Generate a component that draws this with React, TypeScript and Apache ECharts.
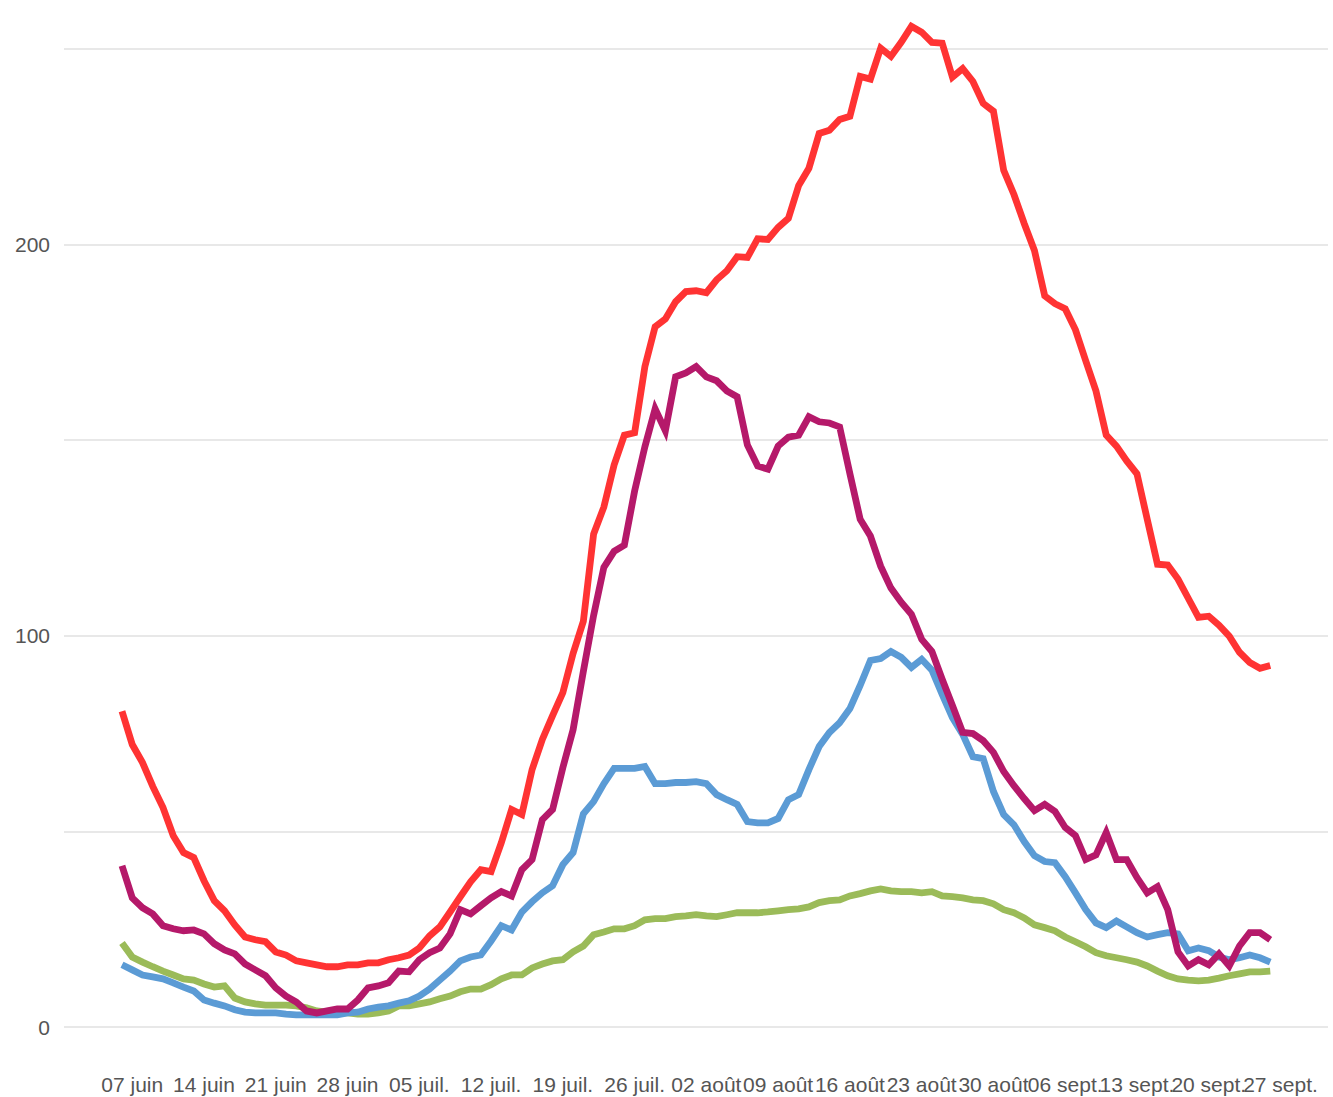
import React, { useEffect, useRef } from "react";
import * as echarts from "echarts";

// Daily categories: 6 June -> 27 Sept (the last one carries only a tick label)
const monthDays: [string, number, number][] = [
  ["06", 6, 30],
  ["07", 1, 31],
  ["08", 1, 31],
  ["09", 1, 27],
];
const categories: string[] = [];
for (const [m, from, to] of monthDays) {
  for (let d = from; d <= to; d++) categories.push(`${String(d).padStart(2, "0")}/${m}`);
}

const tickLabels = [
  "07 juin", "14 juin", "21 juin", "28 juin",
  "05 juil.", "12 juil.", "19 juil.", "26 juil.",
  "02 août", "09 août", "16 août", "23 août", "30 août",
  "06 sept.", "13 sept.", "20 sept.", "27 sept.",
];

const redValues = [
  80.7, 72.2, 67.6, 61.5, 56.1, 48.9, 44.6, 43.3, 37.4, 32.3,
  29.7, 26.1, 23, 22.3, 21.8, 19.2, 18.4, 16.9, 16.4, 15.9,
  15.4, 15.4, 15.9, 15.9, 16.4, 16.4, 17.2, 17.7, 18.4, 20.2,
  23.3, 25.6, 29.4, 33.3, 37.1, 40.2, 39.7, 47.1, 55.6, 54.3,
  65.8, 73.5, 79.6, 85.5, 95.5, 103.7, 126, 132.9, 143.7, 151.3,
  151.9, 168.8, 179, 181, 185.4, 188, 188.2, 187.7, 191, 193.3,
  196.9, 196.7, 201.5, 201.3, 204.4, 206.7, 215.1, 219.5, 228.4, 229.2,
  232, 232.8, 243, 242.3, 250.2, 248.1, 251.7, 255.8, 254.3, 251.7,
  251.5, 242.8, 245, 241.7, 236.1, 234.1, 219, 212.8, 205.4, 198.5,
  186.9, 184.9, 183.6, 178.2, 170.3, 162.6, 151.3, 148.5, 144.7, 141.4,
  129.8, 118.3, 118.1, 114.5, 109.6, 104.7, 105, 102.7, 99.9, 95.8,
  93.2, 91.7, 92.4,
];

const purpleValues = [
  41.2, 33, 30.5, 28.9, 25.9, 25.1, 24.6, 24.8, 23.8, 21.3,
  19.7, 18.7, 16.1, 14.6, 13.1, 10, 7.9, 6.4, 4.1, 3.6,
  4.1, 4.6, 4.6, 6.9, 10, 10.5, 11.3, 14.3, 14.1, 17.2,
  19, 20.2, 23.8, 30, 28.9, 31, 33, 34.6, 33.5, 40.2,
  42.8, 53, 55.6, 66.3, 76, 90.9, 105.2, 117.5, 121.6, 123.2,
  137, 148.3, 158, 152.4, 166.2, 167.2, 168.8, 166.2, 165.2, 162.6,
  161.1, 148.8, 143.4, 142.6, 148.5, 150.8, 151.3, 156, 154.7, 154.4,
  153.4, 141.4, 129.8, 125.5, 117.8, 112.2, 108.6, 105.5, 99.1, 96,
  88.9, 82.2, 75.3, 75, 73.2, 70.2, 65.3, 61.7, 58.4, 55.3,
  56.9, 55.1, 51, 48.9, 42.8, 44, 49.7, 42.8, 42.8, 38.2,
  34.3, 35.9, 30, 19.2, 15.6, 17.2, 15.9, 18.7, 15.6, 20.7,
  24.1, 24.1, 22.3,
];

const blueValues = [
  15.9, 14.6, 13.3, 12.8, 12.3, 11.3, 10.2, 9.2, 6.9, 6.1,
  5.4, 4.4, 3.8, 3.6, 3.6, 3.6, 3.3, 3.1, 3.1, 3.1,
  3.1, 3.1, 3.6, 3.8, 4.6, 5.1, 5.4, 6.1, 6.7, 7.9,
  9.7, 12, 14.3, 16.9, 17.9, 18.4, 22, 25.9, 24.8, 29.4,
  32, 34.3, 36.1, 41.5, 44.6, 54.5, 57.6, 62.2, 66.1, 66.1,
  66.1, 66.6, 62.2, 62.2, 62.5, 62.5, 62.7, 62.2, 59.4, 58.1,
  56.9, 52.5, 52.2, 52.2, 53.3, 58.1, 59.4, 65.8, 71.7, 75.3,
  77.8, 81.4, 87.3, 93.7, 94.2, 96, 94.5, 91.9, 94, 91.2,
  85, 79.1, 74.8, 69.1, 68.6, 60.2, 54.3, 51.7, 47.4, 43.8,
  42.3, 42, 38.4, 34.3, 30, 26.6, 25.4, 27.1, 25.6, 24.1,
  23, 23.6, 24.1, 23.8, 19.5, 20.2, 19.5, 17.9, 17.2, 17.7,
  18.4, 17.7, 16.6,
];

const greenValues = [
  21.5, 17.9, 16.6, 15.4, 14.3, 13.3, 12.3, 12, 11, 10.2,
  10.5, 7.4, 6.4, 5.9, 5.6, 5.6, 5.6, 5.4, 4.9, 4.1,
  3.8, 3.6, 3.6, 3.3, 3.3, 3.6, 4.1, 5.4, 5.4, 5.9,
  6.4, 7.2, 7.9, 9, 9.7, 9.7, 10.8, 12.3, 13.3, 13.3,
  15.1, 16.1, 16.9, 17.2, 19.2, 20.7, 23.6, 24.3, 25.1, 25.1,
  25.9, 27.4, 27.7, 27.7, 28.2, 28.4, 28.7, 28.4, 28.2, 28.7,
  29.2, 29.2, 29.2, 29.4, 29.7, 30, 30.2, 30.7, 31.8, 32.3,
  32.5, 33.5, 34.1, 34.8, 35.3, 34.8, 34.6, 34.6, 34.3, 34.6,
  33.5, 33.3, 33, 32.5, 32.3, 31.5, 30, 29.2, 27.9, 26.1,
  25.4, 24.6, 23, 21.8, 20.5, 19, 18.2, 17.7, 17.2, 16.6,
  15.6, 14.3, 13.1, 12.3, 12, 11.8, 12, 12.5, 13.1, 13.6,
  14.1, 14.1, 14.3,
];

const yTicksShown = [0, 100, 200];

const FONT = "'Liberation Sans', Arial, Helvetica, sans-serif";
const TEXT = "#555555";

export default function App() {
  const ref = useRef<HTMLDivElement>(null);

  useEffect(() => {
    if (!ref.current) return;
    const chart = echarts.init(ref.current, undefined, { renderer: "svg" });
    const top = 49;
    const bottom = 70;
    const lineSeries = (name: string, data: number[], color: string) => ({
      name,
      type: "line",
      xAxisIndex: 1,
      yAxisIndex: 1,
      data,
      showSymbol: false,
      symbol: "none",
      clip: false,
      lineStyle: { color, width: 6.8, join: "miter" },
      itemStyle: { color },
      emphasis: { disabled: true },
    });
    // Two label axes (alternate weeks) so overlapping neighbours are never dropped
    const labelAxis = (parity: number) => ({
      type: "category",
      gridIndex: 1,
      position: "bottom",
      offset: 0,
      data: categories,
      boundaryGap: false,
      axisLine: { show: false },
      axisTick: { show: false },
      splitLine: { show: false },
      axisLabel: {
        interval: (idx: number) => (idx - 1) % 7 === 0 && ((idx - 1) / 7) % 2 === parity,
        formatter: (_v: string, idx: number) => tickLabels[(idx - 1) / 7] ?? "",
        color: TEXT,
        fontFamily: FONT,
        fontSize: 21,
        margin: 47,
        showMinLabel: true,
        showMaxLabel: true,
      },
    });
    chart.setOption({
      animation: false,
      backgroundColor: "#ffffff",
      grid: [
        { left: 64, right: 5, top, bottom, containLabel: false },
        { left: 122, right: 52.5, top, bottom, containLabel: false },
      ],
      xAxis: [
        { type: "value", gridIndex: 0, show: false, min: 0, max: 1 },
        labelAxis(0),
        labelAxis(1),
      ],
      yAxis: [
        {
          type: "value",
          gridIndex: 0,
          min: 0,
          max: 250,
          interval: 50,
          axisLine: { show: false },
          axisTick: { show: false },
          splitLine: { show: true, lineStyle: { color: "#e8e8e8", width: 2 } },
          axisLabel: {
            formatter: (v: number) => (yTicksShown.includes(v) ? String(v) : ""),
            color: TEXT,
            fontFamily: FONT,
            fontSize: 21,
            margin: 14,
          },
        },
        { type: "value", gridIndex: 1, min: 0, max: 250, show: false, splitLine: { show: false } },
      ],
      series: [
        lineSeries("vert", greenValues, "#9bbb59"),
        lineSeries("bleu", blueValues, "#5b9bd5"),
        lineSeries("violet", purpleValues, "#b5196a"),
        lineSeries("rouge", redValues, "#ff3333"),
      ],
    });
    return () => chart.dispose();
  }, []);

  return (
    <div
      ref={ref}
      style={{ position: "fixed", left: 0, top: 0, width: 1333, height: 1097, background: "#fff" }}
    />
  );
}
